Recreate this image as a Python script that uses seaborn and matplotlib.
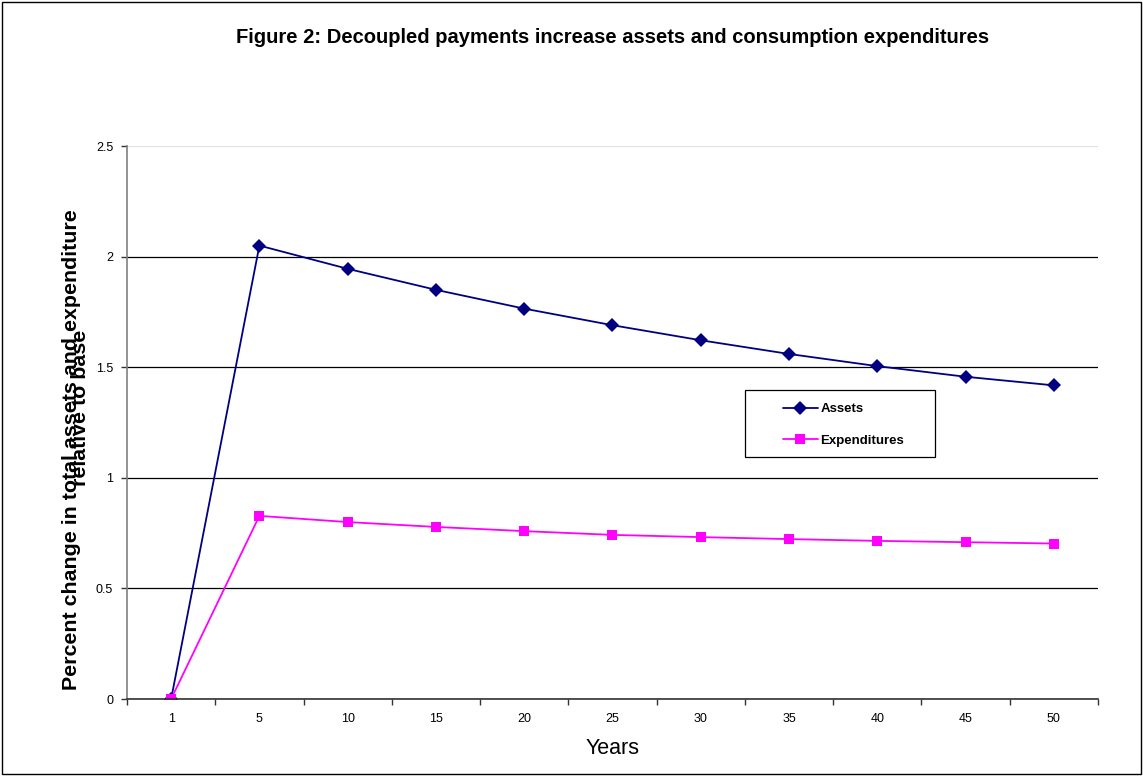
import matplotlib
matplotlib.use("Agg")
import matplotlib.pyplot as plt
import numpy as np
import pandas as pd
import seaborn as sns
from matplotlib.patches import Rectangle

# ---------------------------------------------------------
# Data
# ---------------------------------------------------------
years = ["1", "5", "10", "15", "20", "25", "30", "35", "40", "45", "50"]
assets = [0.0, 2.05, 1.945, 1.85, 1.765, 1.69, 1.622, 1.56, 1.505, 1.457, 1.418]
expenditures = [0.0, 0.828, 0.800, 0.778, 0.759, 0.742, 0.732, 0.723, 0.715, 0.709, 0.703]
y_ticks = [0, 0.5, 1, 1.5, 2, 2.5]
y_tick_labels = ["0", "0.5", "1", "1.5", "2", "2.5"]

title = "Figure 2: Decoupled payments increase assets and consumption expenditures"
ylabel_1 = "Percent change in total assets and expenditure"
ylabel_2 = "relative to base"

df = pd.DataFrame({
    "Years": years * 2,
    "value": assets + expenditures,
    "series": ["Assets"] * len(years) + ["Expenditures"] * len(years),
})

# ---------------------------------------------------------
# Plot
# ---------------------------------------------------------
sns.set_style("white", {"text.color": "black", "axes.labelcolor": "black",
                        "xtick.color": "black", "ytick.color": "black"})
plt.rcParams['font.family'] = ['Liberation Sans', 'DejaVu Sans']

fig = plt.figure(figsize=(11.43, 7.76), dpi=100)
ax = fig.add_axes([0.1111, 0.0992, 0.8495, 0.7126])

sns.lineplot(
    data=df, x="Years", y="value", hue="series", style="series",
    palette={"Assets": "#000080", "Expenditures": "#FF00FF"},
    markers={"Assets": "D", "Expenditures": "s"}, dashes=False,
    markersize=7, markeredgewidth=0, linewidth=1.3, sort=False, ax=ax,
)

n = len(years)
ax.set_xlim(-0.5, n - 0.5)
ax.set_ylim(0, 2.5)

# category labels in the middle, tick marks at the boundaries
ax.set_xticks(np.arange(n))
ax.set_xticklabels(years, fontsize=9)
ax.set_xticks(np.arange(n + 1) - 0.5, minor=True)
ax.tick_params(axis="x", which="major", length=0, pad=10)
ax.tick_params(axis="x", which="minor", length=4, width=1, color="#333333", direction="out", bottom=True)

ax.set_yticks(y_ticks)
ax.set_yticklabels(y_tick_labels, fontsize=9)
ax.tick_params(axis="y", length=4, width=1, color="#333333", direction="out", left=True, pad=6)

ax.yaxis.grid(True, color="#000000", linewidth=0.9)
ax.get_ygridlines()[-1].set_color("#e0e0e0")
ax.xaxis.grid(False)

for side in ["top", "right"]:
    ax.spines[side].set_visible(False)
ax.spines["left"].set_color("#808080")
ax.spines["bottom"].set_color("#333333")
ax.spines["left"].set_linewidth(1.2)
ax.spines["bottom"].set_linewidth(1.2)

ax.set_xlabel("Years", fontsize=15.5)
ax.xaxis.set_label_coords(0.5, -0.07)
ax.set_ylabel("")

# overlapped two-line y label, as in the original
fig.text(0.0625, 0.42, ylabel_1, rotation=90, ha="center", va="center", fontsize=15.4, fontweight="bold")
fig.text(0.0705, 0.475, ylabel_2, rotation=90, ha="center", va="center", fontsize=15.4, fontweight="bold")

fig.text(0.5355, 0.952, title, ha="center", va="center", fontsize=14.5, fontweight="bold")

# legend: entries without frame, box drawn separately (Excel-like padding)
handles, labels = ax.get_legend_handles_labels()
leg = ax.legend(
    handles, labels, loc="center left", bbox_to_anchor=(0.685, 0.4523),
    bbox_transform=fig.transFigure, frameon=False, prop={"size": 9.5, "weight": "bold"},
    handlelength=2.65, handletextpad=0.2, labelspacing=1.45, borderpad=0,
    borderaxespad=0,
)
fig.patches.append(Rectangle((0.6518, 0.411), 0.1662, 0.0863, transform=fig.transFigure,
                             fill=False, edgecolor="black", linewidth=0.9))

# outer chart border
fig.patches.append(Rectangle((0.002, 0.003), 0.996, 0.994, transform=fig.transFigure,
                             fill=False, edgecolor="black", linewidth=1))

fig.savefig("out.png", dpi=100)
